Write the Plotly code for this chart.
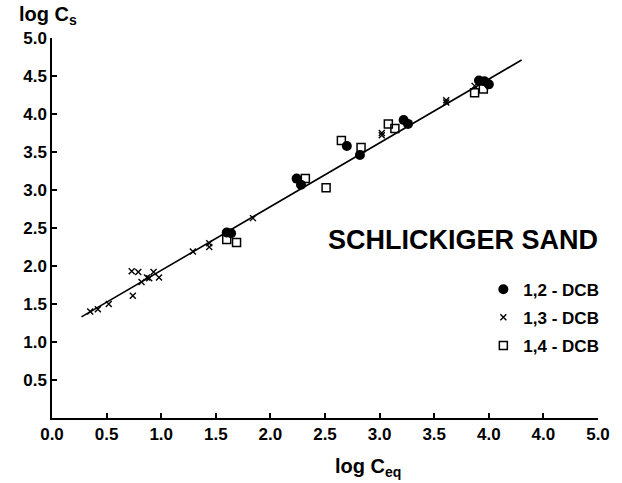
import plotly.graph_objects as go

# Data
dcb12_x = [1.60, 1.64, 2.24, 2.28, 2.70, 2.82, 3.22, 3.26, 3.91, 3.96, 4.00]
dcb12_y = [2.44, 2.43, 3.15, 3.07, 3.58, 3.46, 3.92, 3.87, 4.44, 4.43, 4.39]

dcb13_x = [0.35, 0.42, 0.52, 0.73, 0.79, 0.74, 0.82, 0.87, 0.89, 0.93, 0.98,
           1.29, 1.44, 1.44, 1.84, 3.02, 3.02, 3.61, 3.61, 3.87]
dcb13_y = [1.40, 1.43, 1.50, 1.93, 1.92, 1.61, 1.79, 1.85, 1.84, 1.92, 1.85,
           2.19, 2.30, 2.25, 2.63, 3.72, 3.75, 4.18, 4.15, 4.37]

dcb14_x = [1.60, 1.69, 2.32, 2.51, 2.65, 2.83, 3.08, 3.14, 3.87, 3.95]
dcb14_y = [2.35, 2.31, 3.15, 3.03, 3.65, 3.56, 3.87, 3.81, 4.28, 4.33]

fit_x = [0.27, 4.30]
fit_y = [1.33, 4.71]

x_tickvals = [0.0, 0.5, 1.0, 1.5, 2.0, 2.5, 3.0, 3.5, 4.0, 4.5, 5.0]
x_ticktext = ["0.0", "0.5", "1.0", "1.5", "2.0", "2.5", "3.0", "3.5", "4.0", "4.0", "5.0"]
y_tickvals = [0.5, 1.0, 1.5, 2.0, 2.5, 3.0, 3.5, 4.0, 4.5, 5.0]
y_ticktext = ["0.5", "1.0", "1.5", "2.0", "2.5", "3.0", "3.5", "4.0", "4.5", "5.0"]

names = ["1,2 - DCB", "1,3 - DCB", "1,4 - DCB"]

fig = go.Figure()
fig.add_trace(go.Scatter(x=fit_x, y=fit_y, mode="lines",
                         line=dict(color="black", width=1.6),
                         showlegend=False, hoverinfo="skip"))
fig.add_trace(go.Scatter(x=dcb12_x, y=dcb12_y, mode="markers", name=names[0],
                         legendgroup="a",
                         marker=dict(symbol="circle", size=10, color="black",
                                     line=dict(width=0))))
fig.add_trace(go.Scatter(x=dcb13_x, y=dcb13_y, mode="markers", name=names[1],
                         legendgroup="b",
                         marker=dict(symbol="x-thin-open", size=6, color="black",
                                     line=dict(width=1.4, color="black"))))
fig.add_trace(go.Scatter(x=dcb14_x, y=dcb14_y, mode="markers", name=names[2],
                         legendgroup="c",
                         marker=dict(symbol="square-open", size=8, color="black",
                                     line=dict(width=1.5, color="black"))))

tickfont = dict(family="Liberation Sans, Arial", size=17, color="black", weight="bold")

fig.update_layout(
    width=622, height=483,
    margin=dict(l=52, r=19, t=38, b=65),
    paper_bgcolor="white", plot_bgcolor="white",
    font=dict(family="Liberation Sans, Arial", color="black"),
    xaxis=dict(range=[0, 5], tickvals=x_tickvals, ticktext=x_ticktext,
               ticks="inside", ticklen=5, tickwidth=1.5, tickcolor="black",
               showline=True, linecolor="black", linewidth=1.5,
               showgrid=False, zeroline=False, tickfont=tickfont),
    yaxis=dict(range=[0, 5], tickvals=y_tickvals, ticktext=y_ticktext,
               ticks="inside", ticklen=5, tickwidth=1.5, tickcolor="black",
               showline=True, linecolor="black", linewidth=1.5,
               showgrid=False, zeroline=False, tickfont=tickfont),
    legend=dict(x=0.79, y=0.385, xanchor="left", yanchor="top",
                font=dict(family="Liberation Sans, Arial", size=17,
                          color="black", weight="bold"),
                tracegroupgap=3, bgcolor="rgba(0,0,0,0)"),
    showlegend=True,
    annotations=[
        dict(text="log C<sub>s</sub>", xref="paper", yref="paper",
             x=-0.007, y=1.06, xanchor="center", yanchor="middle", showarrow=False,
             font=dict(family="Liberation Sans, Arial", size=20, color="black",
                       weight="bold")),
        dict(text="log C<sub>eq</sub>", xref="paper", yref="paper",
             x=0.578, y=-0.129, xanchor="center", yanchor="middle", showarrow=False,
             font=dict(family="Liberation Sans, Arial", size=20, color="black",
                       weight="bold")),
        dict(text="SCHLICKIGER SAND", xref="paper", yref="paper",
             x=0.752, y=0.468, xanchor="center", yanchor="middle", showarrow=False,
             font=dict(family="Liberation Sans, Arial", size=27, color="black",
                       weight="bold")),
    ],
)

fig.write_html("out.html")
